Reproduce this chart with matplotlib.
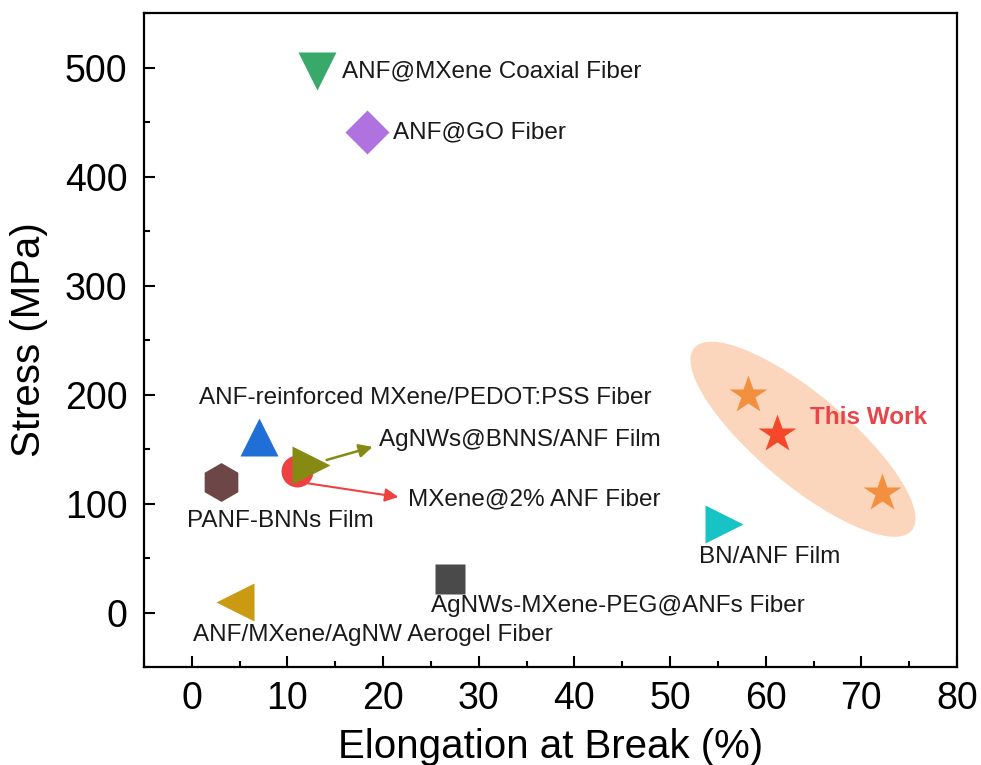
import matplotlib
matplotlib.use("Agg")
import matplotlib.pyplot as plt
from matplotlib.patches import Ellipse
from matplotlib.transforms import ScaledTranslation
from matplotlib.ticker import MultipleLocator

plt.rcParams['font.family'] = ['Liberation Sans', 'DejaVu Sans']

# literature points: name, elongation (%), stress (MPa)
names = ["ANF@MXene Coaxial Fiber", "ANF@GO Fiber",
         "ANF-reinforced MXene/PEDOT:PSS Fiber", "MXene@2% ANF Fiber",
         "AgNWs@BNNS/ANF Film", "PANF-BNNs Film",
         "ANF/MXene/AgNW Aerogel Fiber", "AgNWs-MXene-PEG@ANFs Fiber",
         "BN/ANF Film"]
elong = [13.1, 18.3, 7.0, 11.0, 12.5, 3.0, 4.5, 27.0, 55.6]
stress = [497, 441, 161, 130, 135, 120, 10, 31, 81]
markers = ["v", "D", "^", "o", ">", "h", "<", "s", ">"]
colors = ["#38a96a", "#b072de", "#1f6fd6", "#ee4242", "#868a12",
          "#6d4747", "#c99a12", "#4a4a4a", "#17c3c5"]
sizes = [27, 22, 27, 23, 27, 28, 27, 21, 27]

# label anchor (left edge, vertical centre) for each point
label_x = [15.7, 21.0, 0.8, 22.6, 19.6, -0.5, 0.1, 25.0, 53.0]
label_y = [496, 440, 197, 104, 158, 84, -21, 6, 51]

# this work
tw_elong = [58.2, 61.2, 72.2]
tw_stress = [200, 164, 110]
tw_colors = ["#f39040", "#f5472a", "#f39040"]

fig = plt.figure(figsize=(9.81, 7.65), dpi=100)
ax = fig.add_axes([0.1468, 0.128, 0.8287, 0.855])

# highlight ellipse around this work (size in inches, centred in data coords)
ell = Ellipse((0, 0), 2.84, 0.9, angle=-40, facecolor="#fbd6bd",
              edgecolor="none",
              transform=fig.dpi_scale_trans + ScaledTranslation(63.9, 159, ax.transData))
ax.add_patch(ell)

for i in range(len(names)):
    ax.plot(elong[i], stress[i], marker=markers[i], ms=sizes[i],
            color=colors[i], mec="none", ls="none", zorder=3)
    ax.text(label_x[i], label_y[i], names[i], fontsize=17.5,
            ha="left", va="center", color="#1a1a1a", zorder=4)

# arrows for the two overlapping points
ax.annotate("", xy=(18.9, 152), xytext=(14.1, 140),
            arrowprops=dict(arrowstyle="-|>", color=colors[4], lw=1.8,
                            mutation_scale=20, shrinkA=0, shrinkB=0), zorder=5)
ax.annotate("", xy=(21.6, 106), xytext=(11.8, 119),
            arrowprops=dict(arrowstyle="-|>", color=colors[3], lw=1.5,
                            mutation_scale=20, shrinkA=0, shrinkB=0), zorder=2)

for x, y, c in zip(tw_elong, tw_stress, tw_colors):
    ax.plot(x, y, marker="*", ms=29, color=c, mec="none", ls="none", zorder=3)
ax.text(64.6, 179, "This Work", fontsize=17.5, fontweight="bold",
        color="#e8454a", ha="left", va="center", zorder=4)

ax.set_xlim(-5, 80)
ax.set_ylim(-50, 550)
ax.xaxis.set_major_locator(MultipleLocator(10))
ax.xaxis.set_minor_locator(MultipleLocator(5))
ax.yaxis.set_major_locator(MultipleLocator(100))
ax.yaxis.set_minor_locator(MultipleLocator(50))
ax.tick_params(which="both", direction="in", width=1.5, top=False, right=False,
               labelsize=27)
ax.tick_params(which="major", length=8)
ax.tick_params(which="minor", length=4)
ax.tick_params(axis="y", pad=12)
ax.tick_params(axis="x", pad=10)
for s in ax.spines.values():
    s.set_linewidth(1.6)

ax.set_xlabel("Elongation at Break (%)", fontsize=29, labelpad=8)
ax.set_ylabel("Stress (MPa)", fontsize=29, labelpad=12)

fig.savefig("out.png", dpi=100)
